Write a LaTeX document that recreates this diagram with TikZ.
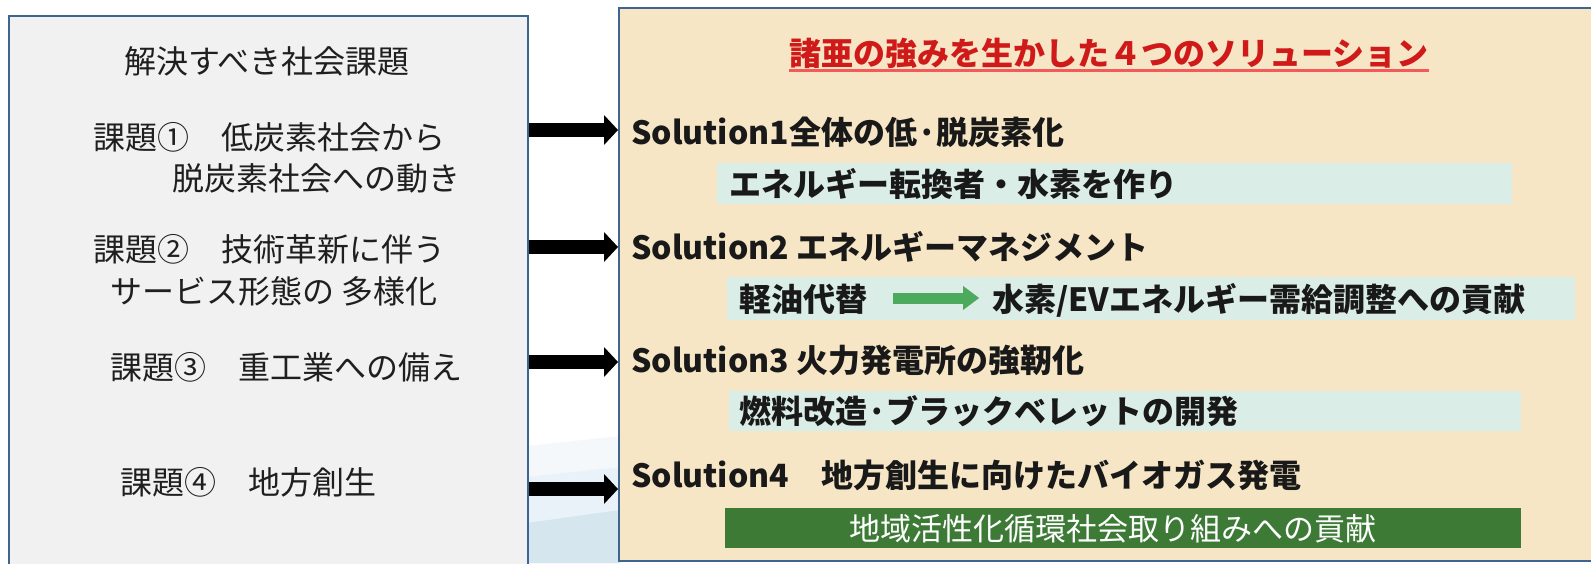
\documentclass[tikz,border=0pt]{standalone}
\usepackage{fontspec}
\newfontfamily\jp{Noto Sans CJK JP}
\usetikzlibrary{arrows.meta}
\definecolor{boxline}{HTML}{3E6592}
\definecolor{leftfill}{HTML}{F1F1F1}
\definecolor{rightfill}{HTML}{F6E6C6}
\definecolor{barfill}{HTML}{DAEDE6}
\definecolor{darkgreen}{HTML}{3C7A36}
\definecolor{arrgreen}{HTML}{4BAA5C}
\definecolor{titlered}{HTML}{D01A1A}
\definecolor{underred}{HTML}{F45A5A}
\definecolor{wavea}{HTML}{F4F8FB}
\definecolor{waveb}{HTML}{E9F2F8}
\definecolor{wavec}{HTML}{D5E6EE}
\begin{document}
\begin{tikzpicture}[x=1pt,y=-1pt,
  lefttext/.style={font=\jp\fontsize{32}{32}\selectfont, text=black!88, inner sep=0pt, text height=28pt, text depth=4pt, anchor=west},
  soltext/.style={font=\jp\bfseries\fontsize{32}{32}\selectfont, text=black!90, inner sep=0pt, text height=28pt, text depth=4pt, anchor=west},
  bartext/.style={font=\jp\bfseries\fontsize{32}{32}\selectfont, text=black!90, inner sep=0pt, text height=28pt, text depth=4pt, anchor=west},
  box/.style={draw=boxline, line width=2pt, anchor=north west, inner sep=0pt},
  bar/.style={fill=barfill, anchor=north west, inner sep=0pt},
  bigarrow/.style={line width=14pt, -{Triangle[length=14pt,width=30pt,line width=0pt]}},
  greenarrow/.style={line width=11pt, draw=arrgreen, -{Triangle[length=16pt,width=24pt,line width=0pt]}}
]
\useasboundingbox (0,0) rectangle (1591,563);
\clip (0,0) rectangle (1591,563);
\fill[white] (0,0) rectangle (1591,563);
% background wave
\fill[wavea] (527,446) -- (620,436) -- (620,563) -- (527,563) -- cycle;
\fill[waveb] (527,477) -- (620,467) -- (620,563) -- (527,563) -- cycle;
\fill[wavec] (527,523) -- (620,510) -- (620,563) -- (527,563) -- cycle;
% boxes
\node[box, fill=leftfill, minimum width=519pt, minimum height=600pt] (lb) at (8,15) {};
\node[box, fill=rightfill, minimum width=1000pt, minimum height=553pt] (rb) at (618,7) {};
% left texts
\node[lefttext] (lt0) at (124,61) {解決すべき社会課題};
\node[lefttext] (lt1a) at (93,137) {課題①　低炭素社会から};
\node[lefttext] (lt1b) at (172,178) {脱炭素社会への動き};
\node[lefttext] (lt2a) at (93,249) {課題②　技術革新に伴う};
\node[lefttext] (lt2b) at (110,291) {サービス形態の 多様化};
\node[lefttext] (lt3) at (110,367) {課題③　重工業への備え};
\node[lefttext] (lt4) at (120,482) {課題④　地方創生};
% title
\node[soltext, text=titlered] (title) at (789,53) {諸亜の強みを生かした４つのソリューション};
\draw[underred, line width=3pt] (title.south west |- 0,70) -- (title.south east |- 0,70);
% bars
\node[bar, minimum width=795pt, minimum height=41pt] (bar1) at (717,163) {};
\node[bar, minimum width=848pt, minimum height=43pt] (bar2) at (727,277) {};
\node[bar, minimum width=792pt, minimum height=40pt] (bar3) at (729,391) {};
\node[bar, fill=darkgreen, minimum width=796pt, minimum height=40pt] (bar4) at (725,508) {};
% solution texts
\node[soltext] (s1) at (631,132) {Solution1全体の低·脱炭素化};
\node[soltext] (s2) at (631,247) {Solution2 エネルギーマネジメント};
\node[soltext] (s3) at (631,360) {Solution3 火力発電所の強靭化};
\node[soltext] (s4) at (631,475) {Solution4　地方創生に向けたバイオガス発電};
\node[bartext] (b1) at (729,184) {エネルギー転換者・水素を作り};
\node[bartext] (b2a) at (739,299) {軽油代替};
\node[bartext] (b2b) at (992,299) {水素/EVエネルギー需給調整への貢献};
\node[bartext] (b3) at (739,411) {燃料改造·ブラックベレットの開発};
\node[bartext, font=\jp\fontsize{31}{31}\selectfont, text=white, anchor=center] (b4) at (1113,528) {地域活性化循環社会取り組みへの貢献};
% big arrows
\coordinate (y1) at (0,130);
\coordinate (y2) at (0,247);
\coordinate (y3) at (0,362);
\coordinate (y4) at (0,489);
\draw[bigarrow] (lb.east |- y1) -- (rb.west |- y1);
\draw[bigarrow] (lb.east |- y2) -- (rb.west |- y2);
\draw[bigarrow] (lb.east |- y3) -- (rb.west |- y3);
\draw[bigarrow] (lb.east |- y4) -- (rb.west |- y4);
% green arrow
\coordinate (ga) at (893,298);
\coordinate (gb) at (979,298);
\draw[greenarrow, draw=black!22, shift={(2,3)}] (ga) -- (gb);
\draw[greenarrow] (ga) -- (gb);
\end{tikzpicture}
\end{document}
